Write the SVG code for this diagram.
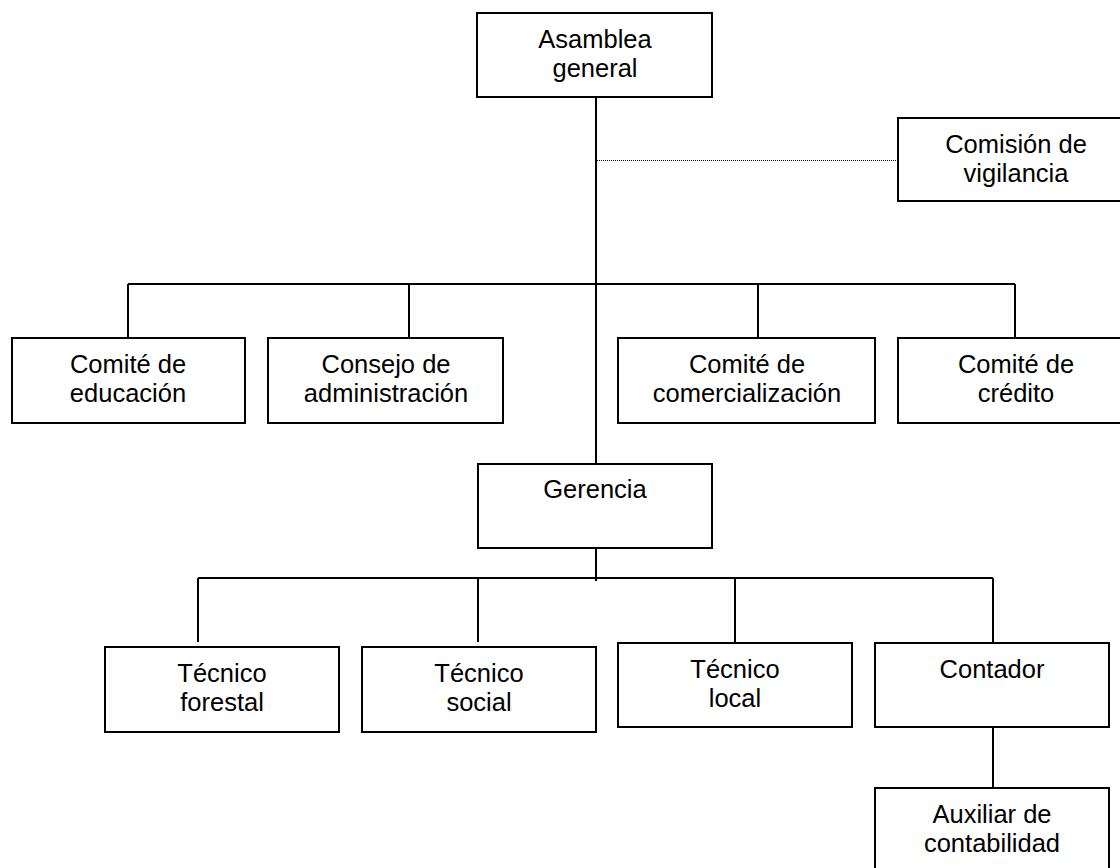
<svg xmlns="http://www.w3.org/2000/svg" width="1120" height="868" viewBox="0 0 1120 868">
  <style>
    .box { fill: #ffffff; stroke: #000000; stroke-width: 2; }
    .lbl { font-family: "Liberation Sans", Arial, sans-serif; font-size: 25.5px; fill: #000000; text-anchor: middle; }
    .link { fill: none; stroke: #000000; stroke-width: 2; }
    .dotted { fill: none; stroke: #000000; stroke-width: 1; stroke-dasharray: 1 1; }
  </style>
  <rect width="1120" height="868" fill="#ffffff"/>

  <!-- connectors -->
  <g id="connectors">
    <line class="link" x1="596" y1="97" x2="596" y2="464"/>
    <line class="dotted" x1="597" y1="160.5" x2="898" y2="160.5"/>
    <line class="link" x1="128" y1="284" x2="1015" y2="284"/>
    <line class="link" x1="128" y1="284" x2="128" y2="338"/>
    <line class="link" x1="409" y1="284" x2="409" y2="338"/>
    <line class="link" x1="758" y1="284" x2="758" y2="338"/>
    <line class="link" x1="1015" y1="284" x2="1015" y2="338"/>
    <line class="link" x1="596" y1="548" x2="596" y2="581"/>
    <line class="link" x1="198" y1="578" x2="993" y2="578"/>
    <line class="link" x1="198" y1="578" x2="198" y2="642"/>
    <line class="link" x1="478" y1="578" x2="478" y2="642"/>
    <line class="link" x1="735" y1="578" x2="735" y2="643"/>
    <line class="link" x1="993" y1="578" x2="993" y2="643"/>
    <line class="link" x1="993" y1="725" x2="993" y2="788"/>
  </g>

  <g id="asamblea-general">
    <rect class="box" x="477" y="13" width="235" height="84"/>
    <text class="lbl" x="595" y="48">Asamblea</text>
    <text class="lbl" x="595" y="77">general</text>
  </g>

  <g id="comision-vigilancia">
    <rect class="box" x="898" y="118" width="236" height="83"/>
    <text class="lbl" x="1016" y="153">Comisión de</text>
    <text class="lbl" x="1016" y="182">vigilancia</text>
  </g>

  <g id="comite-educacion">
    <rect class="box" x="12" y="338" width="233" height="85"/>
    <text class="lbl" x="128" y="373">Comité de</text>
    <text class="lbl" x="128" y="402">educación</text>
  </g>

  <g id="consejo-administracion">
    <rect class="box" x="268" y="338" width="235" height="85"/>
    <text class="lbl" x="386" y="373">Consejo de</text>
    <text class="lbl" x="386" y="402">administración</text>
  </g>

  <g id="comite-comercializacion">
    <rect class="box" x="618" y="338" width="257" height="85"/>
    <text class="lbl" x="747" y="373">Comité de</text>
    <text class="lbl" x="747" y="402">comercialización</text>
  </g>

  <g id="comite-credito">
    <rect class="box" x="898" y="338" width="236" height="85"/>
    <text class="lbl" x="1016" y="373">Comité de</text>
    <text class="lbl" x="1016" y="402">crédito</text>
  </g>

  <g id="gerencia">
    <rect class="box" x="478" y="464" width="234" height="84"/>
    <text class="lbl" x="595" y="498">Gerencia</text>
  </g>

  <g id="tecnico-forestal">
    <rect class="box" x="105" y="647" width="234" height="85"/>
    <text class="lbl" x="222" y="682">Técnico</text>
    <text class="lbl" x="222" y="711">forestal</text>
  </g>

  <g id="tecnico-social">
    <rect class="box" x="362" y="647" width="234" height="85"/>
    <text class="lbl" x="479" y="682">Técnico</text>
    <text class="lbl" x="479" y="711">social</text>
  </g>

  <g id="tecnico-local">
    <rect class="box" x="618" y="643" width="234" height="84"/>
    <text class="lbl" x="735" y="678">Técnico</text>
    <text class="lbl" x="735" y="707">local</text>
  </g>

  <g id="contador">
    <rect class="box" x="875" y="643" width="234" height="84"/>
    <text class="lbl" x="992" y="678">Contador</text>
  </g>

  <g id="auxiliar-contabilidad">
    <rect class="box" x="875" y="788" width="234" height="100"/>
    <text class="lbl" x="992" y="823">Auxiliar de</text>
    <text class="lbl" x="992" y="852">contabilidad</text>
  </g>
</svg>
